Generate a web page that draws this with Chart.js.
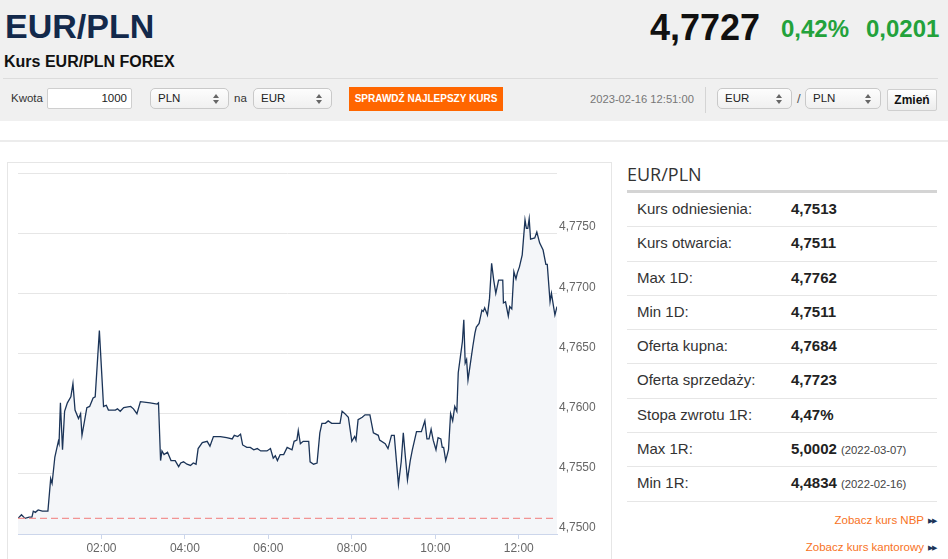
<!DOCTYPE html>
<html lang="pl">
<head>
<meta charset="utf-8">
<title>EUR/PLN</title>
<script src="https://cdn.jsdelivr.net/npm/chart.js"></script>
<style>
  body { margin: 0; width: 948px; height: 559px; overflow: hidden; background: #fff;
         font-family: "Liberation Sans", Arial, sans-serif; color: #222; position: relative; }
  .abs { position: absolute; white-space: nowrap; line-height: 1; }
  .band { position: absolute; left: 0; top: 0; width: 948px; height: 121px; background: #f0f0f0; }
  .sel { position: absolute; top: 88px; height: 21px; box-sizing: border-box; border: 1px solid #c9c9c9;
         border-radius: 5px; background: linear-gradient(#fdfdfd, #f0f0f0); font-size: 11.5px;
         line-height: 19px; padding-left: 7px; color: #222; }
  .sel::before, .sel::after { content: ""; position: absolute; right: 9px; width: 0; height: 0;
         border-left: 3px solid transparent; border-right: 3px solid transparent; }
  .sel::before { top: 5px; border-bottom: 4px solid #666; }
  .sel::after { top: 11px; border-top: 4px solid #666; }
  .row { height: 34.3px; box-sizing: border-box; border-bottom: 1px solid #e6e6e6; position: relative;
         line-height: 32.5px; font-size: 15px; }
  .row .lab { position: absolute; left: 10px; color: #333; }
  .row .val { position: absolute; left: 164px; font-weight: bold; color: #222; }
  .row .dt { font-weight: normal; font-size: 11.3px; color: #444; }
  .link { position: absolute; right: 12px; font-size: 11.5px; color: #f7721e; white-space: nowrap; }
  .link span { color: #1b3458; font-size: 7px; vertical-align: 1px; letter-spacing: -1px; margin-left: 4px; }
</style>
</head>
<body>
<div class="band"></div>
<div class="abs" style="left:5px;top:9px;font-size:34px;font-weight:bold;color:#13294b;">EUR/PLN</div>
<div class="abs" style="left:4px;top:54px;font-size:16px;font-weight:bold;color:#111;">Kurs EUR/PLN FOREX</div>
<div class="abs" style="left:650px;top:10px;font-size:36px;font-weight:bold;color:#111;">4,7727</div>
<div class="abs" style="left:781px;top:17px;font-size:24px;font-weight:bold;color:#23a23b;">0,42%</div>
<div class="abs" style="left:866px;top:17px;font-size:24px;font-weight:bold;color:#23a23b;">0,0201</div>
<div style="position:absolute;left:3px;top:78px;width:935px;height:1px;background:#dcdcdc;"></div>

<div class="abs" style="left:11px;top:88px;font-size:11.5px;line-height:21px;color:#333;">Kwota</div>
<div style="position:absolute;left:47px;top:88px;width:85px;height:21px;box-sizing:border-box;border:1px solid #cfcfcf;border-radius:2px;background:#fff;font-size:11.5px;line-height:19px;text-align:right;padding-right:4px;">1000</div>
<div class="sel" style="left:150px;width:79px;">PLN</div>
<div class="abs" style="left:234px;top:88px;font-size:11.5px;line-height:21px;color:#333;">na</div>
<div class="sel" style="left:253px;width:79px;">EUR</div>
<div class="abs" style="left:349px;top:87px;width:154px;height:24px;background:#ff6600;color:#fff;font-size:10px;font-weight:bold;line-height:24px;text-align:center;">SPRAWDŹ NAJLEPSZY KURS</div>
<div class="abs" style="left:590px;top:88px;font-size:11.2px;line-height:23px;color:#777;">2023-02-16 12:51:00</div>
<div style="position:absolute;left:705px;top:87px;width:1px;height:26px;background:#d4d4d4;"></div>
<div class="sel" style="left:717px;width:75px;">EUR</div>
<div class="abs" style="left:797px;top:88px;font-size:13px;line-height:22px;color:#555;">/</div>
<div class="sel" style="left:805px;width:76px;">PLN</div>
<div class="abs" style="left:887px;top:89px;width:50px;height:22px;box-sizing:border-box;border:1px solid #cfcfcf;border-radius:2px;background:linear-gradient(#ffffff,#ececec);font-size:12px;font-weight:bold;line-height:20px;text-align:center;color:#111;">Zmień</div>

<div style="position:absolute;left:0;top:140px;width:948px;height:2px;background:#ececec;"></div>
<div style="position:absolute;left:7px;top:162px;width:605px;height:420px;box-sizing:border-box;border:1px solid #e6e6e6;"></div>
<canvas id="kurs" width="603" height="396" style="position:absolute;left:8px;top:163px;"></canvas>

<div class="abs" style="left:627px;top:165px;font-family:'Open Sans',sans-serif;font-size:18px;color:#333;">EUR/PLN</div>
<div style="position:absolute;left:627px;top:190px;width:310px;height:3px;background:#d4d4d4;"></div>
<div style="position:absolute;left:627px;top:193px;width:310px;">
  <div class="row"><span class="lab">Kurs odniesienia:</span><span class="val">4,7513</span></div>
  <div class="row"><span class="lab">Kurs otwarcia:</span><span class="val">4,7511</span></div>
  <div class="row"><span class="lab">Max 1D:</span><span class="val">4,7762</span></div>
  <div class="row"><span class="lab">Min 1D:</span><span class="val">4,7511</span></div>
  <div class="row"><span class="lab">Oferta kupna:</span><span class="val">4,7684</span></div>
  <div class="row"><span class="lab">Oferta sprzedaży:</span><span class="val">4,7723</span></div>
  <div class="row"><span class="lab">Stopa zwrotu 1R:</span><span class="val">4,47%</span></div>
  <div class="row"><span class="lab">Max 1R:</span><span class="val">5,0002 <span class="dt">(2022-03-07)</span></span></div>
  <div class="row"><span class="lab">Min 1R:</span><span class="val">4,4834 <span class="dt">(2022-02-16)</span></span></div>
</div>
<div class="link" style="top:514px;">Zobacz kurs NBP<span>▶▶</span></div>
<div class="link" style="top:541px;">Zobacz kurs kantorowy<span>▶▶</span></div>

<script>
// minuty od 00:00, kurs EUR/PLN
const minutes = [0, 5, 10, 16, 20, 22, 25, 29, 35, 43,
  47, 49, 53, 58, 59, 61, 64, 67, 71, 76,
  79, 82, 87, 90, 92, 99, 103, 108, 111, 117,
  123, 127, 130, 140, 143, 147, 152, 162, 166, 171,
  176, 190, 200, 202, 205, 207, 210, 215, 220, 226,
  231, 234, 238, 243, 248, 252, 256, 259, 265, 272,
  276, 281, 291, 300, 308, 311, 316, 320, 323, 329,
  334, 339, 344, 349, 358, 363, 367, 370, 373, 377,
  382, 387, 394, 397, 401, 403, 406, 410, 418, 420,
  425, 430, 434, 437, 442, 446, 451, 463, 466, 470,
  475, 480, 484, 486, 489, 495, 499, 506, 511, 518,
  520, 528, 532, 537, 541, 547, 551, 554, 557, 560,
  564, 567, 573, 575, 580, 585, 588, 591, 594, 597,
  601, 604, 608, 610, 612, 615, 619, 622, 625, 628,
  631, 633, 636, 639, 641, 643, 645, 647, 650, 654,
  657, 659, 663, 667, 669, 671, 675, 678, 681, 684,
  687, 691, 697, 698, 701, 705, 707, 710, 713, 716,
  718, 721, 725, 729, 731, 733, 735, 737, 743, 746,
  750, 755, 759, 761, 765, 767, 772, 775];

const rates = [4.7513, 4.7516, 4.7513, 4.7514, 4.7514, 4.7519, 4.7518, 4.7520, 4.7519, 4.7519,
  4.7546, 4.7542, 4.7564, 4.7577, 4.7575, 4.7609, 4.7570, 4.7602, 4.7609, 4.7614,
  4.7625, 4.7603, 4.7596, 4.7600, 4.7582, 4.7605, 4.7606, 4.7613, 4.7614, 4.7669,
  4.7606, 4.7607, 4.7603, 4.7603, 4.7604, 4.7602, 4.7605, 4.7606, 4.7604, 4.7600,
  4.7610, 4.7609, 4.7608, 4.7609, 4.7561, 4.7569, 4.7566, 4.7568, 4.7561, 4.7561,
  4.7556, 4.7559, 4.7560, 4.7558, 4.7557, 4.7559, 4.7558, 4.7571, 4.7576, 4.7577,
  4.7573, 4.7581, 4.7581, 4.7580, 4.7579, 4.7582, 4.7581, 4.7583, 4.7574, 4.7572,
  4.7572, 4.7570, 4.7571, 4.7569, 4.7569, 4.7571, 4.7563, 4.7565, 4.7561, 4.7566,
  4.7566, 4.7572, 4.7570, 4.7577, 4.7578, 4.7586, 4.7575, 4.7577, 4.7577, 4.7560,
  4.7558, 4.7559, 4.7584, 4.7592, 4.7592, 4.7594, 4.7592, 4.7592, 4.7602, 4.7600,
  4.7597, 4.7577, 4.7581, 4.7578, 4.7595, 4.7597, 4.7599, 4.7599, 4.7584, 4.7582,
  4.7578, 4.7575, 4.7571, 4.7582, 4.7582, 4.7541, 4.7560, 4.7584, 4.7564, 4.7545,
  4.7561, 4.7570, 4.7585, 4.7585, 4.7585, 4.7594, 4.7579, 4.7579, 4.7587, 4.7578,
  4.7570, 4.7580, 4.7579, 4.7572, 4.7572, 4.7561, 4.7570, 4.7600, 4.7594, 4.7606,
  4.7602, 4.7634, 4.7647, 4.7660, 4.7678, 4.7642, 4.7645, 4.7628, 4.7640, 4.7656,
  4.7667, 4.7672, 4.7675, 4.7686, 4.7685, 4.7688, 4.7682, 4.7696, 4.7725, 4.7711,
  4.7700, 4.7711, 4.7711, 4.7692, 4.7693, 4.7681, 4.7689, 4.7687, 4.7718, 4.7712,
  4.7717, 4.7722, 4.7732, 4.7761, 4.7754, 4.7754, 4.7762, 4.7745, 4.7746, 4.7751,
  4.7742, 4.7736, 4.7724, 4.7724, 4.7693, 4.7700, 4.7682, 4.7689];

const referenceRate = 4.7513;
const hourTicks = [120, 240, 360, 480, 600, 720];
const rateTicks = [4.75, 4.755, 4.76, 4.765, 4.77, 4.775, 4.78];

Chart.defaults.font.family = "'Liberation Sans', Arial, sans-serif";

function formatHour(value) {
  const h = Math.floor(value / 60);
  const m = value % 60;
  return String(h).padStart(2, "0") + ":" + String(m).padStart(2, "0");
}

function formatRate(value) {
  return value.toFixed(4).replace(".", ",");
}

const lastMinute = minutes[minutes.length - 1];
const points = minutes.map((m, i) => ({ x: m, y: rates[i] }));

new Chart(document.getElementById("kurs").getContext("2d"), {
  type: "line",
  data: {
    datasets: [
      {
        data: points,
        order: 2,
        borderColor: "#1b3458",
        borderWidth: 1.3,
        backgroundColor: "#f4f6f9",
        fill: "start",
        pointRadius: 0,
        tension: 0,
      },
      {
        // kurs odniesienia
        data: [{ x: 0, y: referenceRate }, { x: lastMinute, y: referenceRate }],
        order: 1,
        borderColor: "#f29494",
        borderWidth: 1.3,
        borderDash: [7, 4],
        fill: false,
        pointRadius: 0,
      },
    ],
  },
  options: {
    responsive: false,
    animation: false,
    layout: { padding: { left: 10, top: 10, right: 0, bottom: 0 } },
    plugins: { legend: { display: false }, tooltip: { enabled: false } },
    scales: {
      x: {
        type: "linear",
        min: 0,
        max: lastMinute,
        afterBuildTicks: (axis) => { axis.ticks = hourTicks.map((v) => ({ value: v })); },
        afterFit: (axis) => { axis.height = 25; },
        ticks: { callback: (v) => formatHour(v), color: "#666", font: { size: 12 }, padding: 2, maxRotation: 0, autoSkip: false },
        grid: { drawOnChartArea: false, color: "#ccd6eb", tickLength: 5 },
        border: { color: "#ccd6eb" },
      },
      y: {
        position: "right",
        min: 4.75,
        max: 4.78,
        afterBuildTicks: (axis) => { axis.ticks = rateTicks.map((v) => ({ value: v })); },
        afterFit: (axis) => { axis.width = 54; },
        ticks: {
          callback: (v) => (v >= 4.78 ? "" : formatRate(v)),
          color: "#666",
          font: { size: 12 },
          padding: 2,
          labelOffset: -6,
        },
        grid: {
          color: (ctx) => (ctx.tick && ctx.tick.value === 4.75 ? "rgba(0,0,0,0)" : "#e6e6e6"),
          drawTicks: false,
        },
        border: { display: false },
      },
    },
  },
});
</script>
</body>
</html>
